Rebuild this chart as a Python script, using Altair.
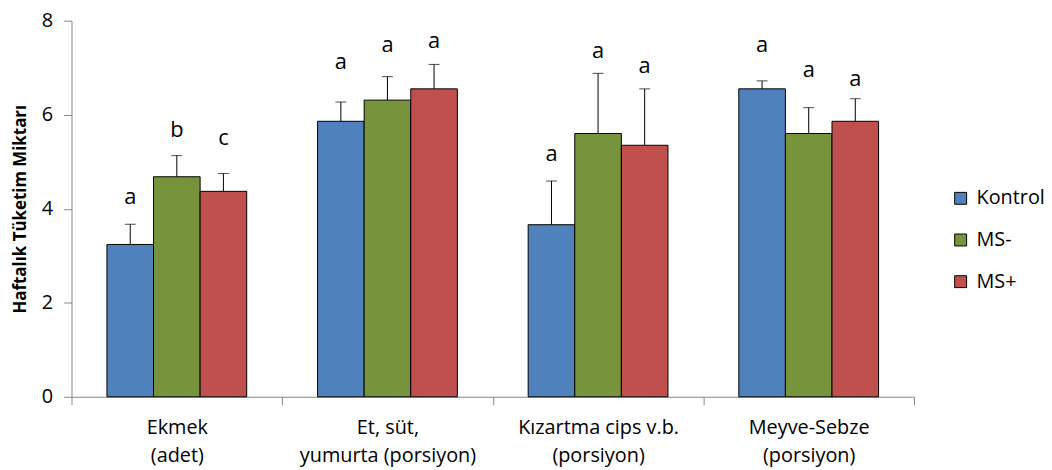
import altair as alt
import pandas as pd

categories = ["Ekmek", "Et, süt, yumurta", "Kızartma cips v.b.", "Meyve-Sebze"]
cat_labels = ["Ekmek|(adet)", "Et, süt,|yumurta (porsiyon)", "Kızartma cips v.b.|(porsiyon)", "Meyve-Sebze|(porsiyon)"]
groups = ["Kontrol", "MS-", "MS+"]
colors = ["#4F81BD", "#77933C", "#C0504D"]

kontrol = [3.24, 5.86, 3.66, 6.55]
ms_minus = [4.68, 6.31, 5.60, 5.60]
ms_plus = [4.37, 6.55, 5.35, 5.86]

kontrol_err = [0.43, 0.41, 0.93, 0.17]
ms_minus_err = [0.45, 0.50, 1.28, 0.55]
ms_plus_err = [0.38, 0.52, 1.20, 0.48]

kontrol_letter = ["a", "a", "a", "a"]
ms_minus_letter = ["b", "a", "a", "a"]
ms_plus_letter = ["c", "a", "a", "a"]

kontrol_letter_y = [4.24, 7.13, 5.17, 7.49]
ms_minus_letter_y = [5.68, 7.49, 7.36, 6.96]
ms_plus_letter_y = [5.51, 7.57, 7.03, 6.75]

rows = []
series = [
    ("Kontrol", kontrol, kontrol_err, kontrol_letter, kontrol_letter_y),
    ("MS-", ms_minus, ms_minus_err, ms_minus_letter, ms_minus_letter_y),
    ("MS+", ms_plus, ms_plus_err, ms_plus_letter, ms_plus_letter_y),
]
for g, vals, errs, lets, ly in series:
    for i, c in enumerate(categories):
        rows.append({
            "cat": cat_labels[i],
            "group": g,
            "value": vals[i],
            "top": vals[i] + errs[i],
            "letter": lets[i],
            "ly": ly[i],
        })
df = pd.DataFrame(rows)

FONT = "Open Sans"

x = alt.X("cat:N", sort=cat_labels, title=None,
          scale=alt.Scale(paddingInner=0, paddingOuter=0),
          axis=alt.Axis(labelAngle=0, labelFont=FONT, labelFontSize=20, labelColor="#000000",
                        labelExpr="split(datum.label, '|')", labelLineHeight=28,
                        labelPadding=13, tickBand="extent", tickSize=8,
                        domainColor="#868686", tickColor="#868686", labelBaseline="top"))
xo = alt.XOffset("group:N", sort=groups, scale=alt.Scale(paddingInner=0, paddingOuter=0.76))
y = alt.Y("value:Q", scale=alt.Scale(domain=[0, 8]),
          title="Haftalık Tüketim Miktarı",
          axis=alt.Axis(values=[0, 2, 4, 6, 8], grid=False, labelFont=FONT, labelFontSize=20,
                        labelColor="#000000", tickSize=8, labelPadding=11,
                        domainColor="#868686", tickColor="#868686",
                        titleFont=FONT, titleFontSize=17, titleFontWeight="bold",
                        titleColor="#000000", titlePadding=12))

base = alt.Chart(df)

bars = base.mark_bar(stroke="#000000", strokeWidth=1).encode(
    x=x, xOffset=xo, y=y,
    color=alt.Color("group:N", sort=groups, scale=alt.Scale(domain=groups, range=colors),
                    legend=alt.Legend(title=None, orient="none", legendX=886, legendY=169,
                                      symbolType="square", symbolSize=144,
                                      symbolStrokeColor="#000000", symbolStrokeWidth=1,
                                      labelFont=FONT, labelFontSize=20, labelColor="#000000",
                                      labelOffset=6, rowPadding=22, padding=0)),
)

err = base.mark_rule(color="#000000", strokeWidth=1).encode(
    x=x, xOffset=xo, y=alt.Y("value:Q"), y2="top:Q")

caps = base.mark_tick(color="#000000", thickness=1, size=11).encode(
    x=x, xOffset=xo, y=alt.Y("top:Q"))

letters = base.mark_text(font=FONT, fontSize=22, color="#000000", baseline="middle").encode(
    x=x, xOffset=xo, y=alt.Y("ly:Q"), text="letter:N")

chart = alt.layer(bars, err, caps, letters).properties(
    width=849, height=379,
    autosize=alt.AutoSizeParams(type="none"),
    padding={"left": 64, "top": 11, "right": 131, "bottom": 72},
).configure(background="#ffffff", view=alt.ViewConfig(stroke=None))

chart.save("out.html", embed_options={"renderer": "svg", "actions": False})
